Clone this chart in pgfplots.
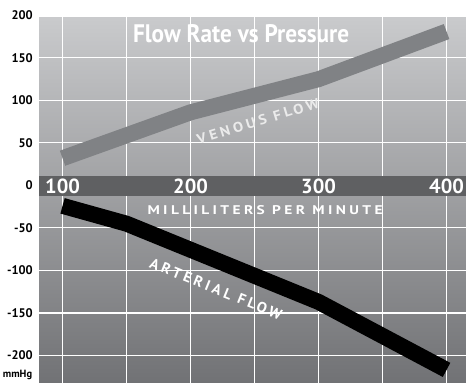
\documentclass[border=0pt]{standalone}
\usepackage{graphicx}
\usepackage{pgfplots}
\pgfplotsset{compat=1.18}
\usepackage{fontspec}
\setmainfont{PT Sans}
\newfontfamily\spaced[LetterSpace=22]{PT Sans}
\definecolor{bgtop}{HTML}{C9CACC}
\definecolor{bgbot}{HTML}{717275}
\definecolor{band}{HTML}{5F6062}
\definecolor{venouscol}{HTML}{808285}
\pgfplotstableread{
x y
100 32
200 86
300 125
400 181
}\venoustab
\pgfplotstableread{
x y
100 -24
150 -45
300 -137
400 -217
}\arterialtab
\begin{document}
\begin{tikzpicture}
\begin{axis}[
  set layers,
  at={(39bp,0bp)}, anchor=south west,
  scale only axis, width=427bp, height=368bp,
  xmin=81.6, xmax=415.2, ymin=-232.4, ymax=200.5,
  axis line style={draw=none}, tick style={draw=none},
  xtick={100,150,...,400}, xticklabels={},
  ytick={-200,-150,...,200},
  grid=major, grid style={white, line width=1.1bp},
  /pgf/number format/assume math mode=true,
  yticklabel style={font=\bfseries\fontsize{12.5}{14}\selectfont, anchor=east, inner sep=0pt, xshift=-6bp},
  clip=false,
]
\begin{pgfonlayer}{axis background}
\shade[top color=bgtop, bottom color=bgbot] (axis cs:81.6,-232.4) rectangle (axis cs:415.2,197);
\end{pgfonlayer}
\fill[band] (axis cs:81.6,11.2) rectangle (axis cs:415.2,-12.4);
\addplot[venouscol, line width=16bp, line join=miter] table[x=x,y=y] {\venoustab};
\addplot[black, line width=16bp, line join=miter] table[x=x,y=y] {\arterialtab};
\node[white, font=\bfseries\fontsize{20.5}{22}\selectfont] at (axis cs:100,-0.6) {100};
\node[white, font=\bfseries\fontsize{20.5}{22}\selectfont] at (axis cs:200,-0.6) {200};
\node[white, font=\bfseries\fontsize{20.5}{22}\selectfont] at (axis cs:300,-0.6) {300};
\node[white, font=\bfseries\fontsize{20.5}{22}\selectfont] at (axis cs:400,-0.6) {400};
\node[white, inner sep=0pt] at (axis cs:239.5,178.2) {\resizebox{216bp}{18bp}{\bfseries Flow Rate vs Pressure}};
\node[white, inner sep=0pt] at (axis cs:258.2,-28.8) {\resizebox{235bp}{9bp}{\spaced\bfseries MILLILITERS PER MINUTE}};
\node[white!92!black, inner sep=0pt, rotate=17] at (axis cs:252.7,75.5) {\resizebox{127bp}{10bp}{\spaced\bfseries VENOUS FLOW}};
\node[white, inner sep=0pt, rotate=-22] at (axis cs:219.9,-121.8) {\resizebox{141bp}{10.5bp}{\spaced\bfseries ARTERIAL FLOW}};
\end{axis}
\node[font=\bfseries\fontsize{10.5}{12}\selectfont] at (17.5bp,8bp) {mmHg};
\pgfresetboundingbox
\path[use as bounding box] (0bp,0bp) rectangle (466bp,383bp);
\end{tikzpicture}
\end{document}
